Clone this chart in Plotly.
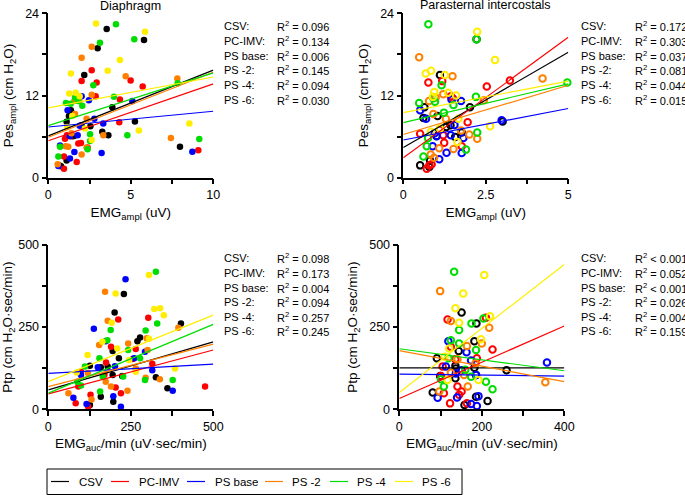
import plotly.graph_objects as go

W, H = 685, 495
FONT = "Liberation Sans, Arial, sans-serif"

series = ["CSV", "PC-IMV", "PS base", "PS -2", "PS -4", "PS -6"]
colors = ["#000000", "#FF0000", "#0000FF", "#FF8000", "#00DD00", "#FFEE00"]

# ---------------- Panel 1: Diaphragm, Pes_ampl vs EMG_ampl ----------------
p1_csv_x = [3.54, 5.80, 2.99, 2.18, 3.88, 1.37, 1.25, 1.11, 2.02, 2.55, 3.27, 3.64, 5.25, 1.45, 1.55, 7.98, 1.11, 0.65, 0.77]
p1_csv_y = [21.7, 20.1, 18.9, 15.0, 10.3, 9.85, 9.0, 8.15, 7.66, 7.5, 6.7, 6.2, 8.2, 6.05, 6.1, 4.5, 2.5, 1.8, 1.66]
p1_pc_x = [2.63, 2.02, 2.93, 4.99, 2.87, 5.72, 4.34, 4.30, 1.13, 1.31, 1.01, 1.82, 1.98, 9.09, 0.95, 0.95, 1.72, 2.38]
p1_pc_y = [15.7, 14.1, 13.9, 14.2, 11.9, 13.3, 11.4, 8.1, 6.2, 6.05, 5.7, 5.0, 5.07, 4.0, 3.1, 1.3, 2.3, 4.4]
p1_base_x = [2.02, 5.09, 2.46, 1.17, 2.79, 3.33, 1.78, 0.71, 1.58, 3.23, 8.73, 1.31, 0.61, 1.30, 1.90]
p1_base_y = [11.9, 11.2, 11.3, 9.85, 8.6, 7.9, 6.2, 4.7, 3.75, 3.6, 3.8, 2.8, 1.7, 6.1, 7.6]
p1_ps2_x = [2.63, 2.02, 4.69, 7.82, 2.63, 1.58, 1.88, 2.32, 1.62, 3.33, 7.43, 1.05, 1.21, 2.02, 2.32, 0.57, 1.40]
p1_ps2_y = [19.1, 17.5, 14.8, 14.5, 12.1, 11.2, 11.2, 8.6, 9.3, 6.2, 5.8, 4.6, 4.5, 3.4, 4.4, 1.95, 6.5]
p1_ps4_x = [4.10, 5.21, 3.13, 2.73, 1.62, 1.07, 3.98, 2.06, 7.84, 4.79, 2.53, 2.53, 9.15, 0.71, 0.61, 2.38, 1.80, 1.35]
p1_ps4_y = [22.4, 20.2, 19.7, 13.5, 11.7, 10.9, 11.8, 10.5, 13.8, 6.2, 6.34, 5.37, 5.66, 4.5, 3.1, 4.15, 11.2, 10.8]
p1_ps6_x = [2.89, 5.86, 4.34, 3.60, 1.37, 1.27, 1.66, 1.15, 2.22, 2.63, 5.49, 8.55, 1.90, 1.45]
p1_ps6_y = [22.5, 21.3, 17.2, 15.6, 15.2, 12.3, 12.4, 7.4, 7.2, 5.5, 6.9, 7.9, 11.9, 9.0]
p1_fit_start = [6.1, 5.4, 7.4, 5.9, 7.6, 10.2]
p1_fit_end = [15.7, 13.7, 9.7, 15.4, 15.3, 14.7]
p1_r2 = ["R<sup>2</sup> = 0.096", "R<sup>2</sup> = 0.134", "R<sup>2</sup> = 0.006",
         "R<sup>2</sup> = 0.145", "R<sup>2</sup> = 0.094", "R<sup>2</sup> = 0.030"]

# ---------------- Panel 2: Parasternal, Pes_ampl vs EMG_ampl ----------------
p2_csv_x = [2.22, 1.11, 0.64, 2.02, 0.61, 1.04, 1.43, 1.01, 1.57, 1.77, 3.01, 0.51, 0.81, 0.79, 1.30]
p2_csv_y = [20.2, 15.0, 10.3, 10.3, 8.7, 9.0, 7.66, 6.1, 5.95, 6.6, 8.2, 1.8, 2.5, 1.55, 7.4]
p2_pc_x = [0.76, 1.18, 1.44, 1.50, 3.23, 2.53, 1.95, 0.51, 1.21, 1.24, 1.77, 0.79, 0.86, 0.71, 1.10]
p2_pc_y = [13.9, 14.1, 11.9, 11.6, 14.2, 13.3, 8.1, 6.4, 6.2, 5.1, 4.6, 1.8, 1.95, 1.3, 7.0]
p2_base_x = [0.51, 1.46, 1.75, 0.69, 2.98, 1.01, 1.44, 1.82, 0.89, 1.31, 1.77, 1.09, 1.55, 0.95]
p2_base_y = [9.85, 11.4, 11.2, 8.6, 8.4, 6.05, 6.2, 5.8, 4.6, 3.65, 3.6, 2.7, 7.7, 6.5]
p2_ps2_x = [0.48, 1.21, 1.49, 0.78, 0.98, 4.22, 2.44, 0.91, 1.29, 2.00, 2.24, 1.52, 1.09, 0.83, 0.93, 1.75]
p2_ps2_y = [17.6, 12.2, 14.8, 11.2, 11.7, 14.5, 11.3, 9.3, 8.6, 6.3, 5.7, 4.2, 4.3, 3.4, 2.9, 6.9]
p2_ps4_x = [0.76, 2.22, 0.48, 0.91, 0.96, 2.20, 1.52, 1.23, 4.97, 2.24, 1.90, 0.61, 0.71, 1.16, 0.75]
p2_ps4_y = [22.4, 20.2, 10.9, 11.6, 11.1, 11.8, 10.6, 9.5, 13.9, 6.6, 4.1, 3.1, 4.6, 13.5, 5.8]
p2_ps6_x = [2.24, 2.78, 0.84, 0.68, 0.94, 1.36, 1.67, 2.63, 0.84, 1.11, 1.64, 1.26, 1.60, 0.90]
p2_ps6_y = [21.3, 17.2, 15.6, 15.2, 12.5, 12.4, 8.6, 7.5, 6.7, 7.2, 5.2, 15.0, 12.0, 11.8]
p2_fit_start = [4.4, 2.9, 5.5, 6.3, 8.05, 9.5]
p2_fit_end = [18.3, 20.5, 10.1, 13.5, 13.7, 14.1]
p2_r2 = ["R<sup>2</sup> = 0.172", "R<sup>2</sup> = 0.303", "R<sup>2</sup> = 0.037",
         "R<sup>2</sup> = 0.081", "R<sup>2</sup> = 0.044", "R<sup>2</sup> = 0.015"]

# ---------------- Panel 3: Diaphragm, Ptp vs EMG_auc/min ----------------
p3_csv_x = [229, 201, 402, 278, 270, 195, 214, 159, 126, 195, 224, 326, 361, 159, 197, 126, 180]
p3_csv_y = [350, 294, 261, 218, 207, 177, 155, 128, 132, 104, 101, 97, 64, 38, 23, 13, 130]
p3_pc_x = [212, 303, 190, 265, 175, 256, 315, 99, 91, 128, 83, 220, 204, 121, 475, 170]
p3_pc_y = [273, 278, 190, 183, 142, 153, 138, 114, 69, 44, 18, 49, 66, 8, 69, 105]
p3_base_x = [234, 138, 174, 293, 202, 150, 315, 377, 76, 116, 197, 220, 99, 260]
p3_base_y = [395, 245, 207, 175, 131, 128, 119, 56, 35, 16, 40, 8, 104, 155]
p3_ps2_x = [172, 180, 154, 242, 298, 394, 301, 265, 295, 338, 174, 190, 240, 61, 131, 120]
p3_ps2_y = [357, 269, 195, 200, 216, 248, 180, 124, 96, 91, 84, 69, 56, 49, 30, 110]
p3_ps4_x = [326, 189, 295, 179, 330, 242, 278, 155, 111, 165, 293, 377, 88, 99, 157, 227]
p3_ps4_y = [418, 241, 239, 210, 261, 180, 155, 155, 130, 99, 89, 89, 84, 72, 54, 100]
p3_ps6_x = [305, 204, 321, 339, 350, 305, 192, 164, 119, 209, 384, 265, 86, 245]
p3_ps6_y = [408, 352, 305, 307, 286, 214, 263, 205, 165, 185, 124, 114, 112, 150]
p3_fit_start = [59, 47, 109, 69, 49, 84]
p3_fit_end = [205, 180, 137, 198, 258, 286]
p3_r2 = ["R<sup>2</sup> = 0.098", "R<sup>2</sup> = 0.173", "R<sup>2</sup> = 0.004",
         "R<sup>2</sup> = 0.094", "R<sup>2</sup> = 0.257", "R<sup>2</sup> = 0.245"]

# ---------------- Panel 4: Parasternal, Ptp vs EMG_auc/min ----------------
p4_csv_x = [151, 187, 182, 144, 91, 136, 137, 182, 260, 99, 136, 186, 81, 214, 186, 158]
p4_csv_y = [294, 261, 207, 177, 155, 132, 124, 126, 119, 101, 94, 104, 51, 25, 38, 13]
p4_pc_x = [117, 210, 226, 125, 188, 136, 105, 101, 141, 151, 108, 145, 123, 164]
p4_pc_y = [273, 278, 182, 190, 155, 152, 130, 101, 69, 54, 49, 44, 18, 18]
p4_base_x = [119, 163, 174, 113, 151, 137, 358, 186, 93, 140, 192, 188, 174]
p4_base_y = [207, 173, 148, 130, 119, 109, 142, 104, 35, 36, 40, 10, 16]
p4_ps2_x = [99, 125, 218, 200, 164, 141, 354, 166, 97, 157, 125, 185]
p4_ps2_y = [359, 268, 248, 200, 192, 152, 82, 69, 54, 104, 111, 140]
p4_ps4_x = [133, 145, 175, 204, 125, 145, 186, 119, 210, 226, 108, 101, 174, 160]
p4_ps4_y = [418, 241, 261, 276, 210, 200, 180, 155, 84, 61, 69, 91, 99, 120]
p4_ps6_x = [206, 155, 136, 145, 220, 198, 121, 192, 117, 110]
p4_ps6_y = [408, 352, 307, 263, 283, 213, 185, 89, 89, 160]
p4_fit_start = [126, 33, 107, 178, 184, 51]
p4_fit_end = [126, 253, 101, 84, 117, 440]
p4_r2 = ["R<sup>2</sup> < 0.001", "R<sup>2</sup> = 0.052", "R<sup>2</sup> < 0.001",
         "R<sup>2</sup> = 0.026", "R<sup>2</sup> = 0.004", "R<sup>2</sup> = 0.159"]

labels = ["CSV:", "PC-IMV:", "PS base:", "PS -2:", "PS -4:", "PS -6:"]

panels = [
    dict(xs=[p1_csv_x, p1_pc_x, p1_base_x, p1_ps2_x, p1_ps4_x, p1_ps6_x],
         ys=[p1_csv_y, p1_pc_y, p1_base_y, p1_ps2_y, p1_ps4_y, p1_ps6_y],
         fs=p1_fit_start, fe=p1_fit_end, r2=p1_r2, xmax=10, ymax=24,
         open=False, xd=(48.3, 213.3), yd=(13.3, 177.7),
         xt=[0, 5, 10], xm=[2.5, 7.5], yt=[0, 12, 24], ym=[6, 18],
         xtitle="EMG<sub>ampl</sub> (uV)", ytitle="Pes<sub>ampl</sub> (cm H<sub>2</sub>O)",
         lab_x=222, r2_x=275, row0=26, dy=14.8),
    dict(xs=[p2_csv_x, p2_pc_x, p2_base_x, p2_ps2_x, p2_ps4_x, p2_ps6_x],
         ys=[p2_csv_y, p2_pc_y, p2_base_y, p2_ps2_y, p2_ps4_y, p2_ps6_y],
         fs=p2_fit_start, fe=p2_fit_end, r2=p2_r2, xmax=5, ymax=24,
         open=True, xd=(403.3, 568.3), yd=(13.3, 177.7),
         xt=[0, 2.5, 5], xm=[1.25, 3.75], yt=[0, 12, 24], ym=[6, 18],
         xtitle="EMG<sub>ampl</sub> (uV)", ytitle="Pes<sub>ampl</sub> (cm H<sub>2</sub>O)",
         lab_x=578.7, r2_x=633, row0=26, dy=14.8),
    dict(xs=[p3_csv_x, p3_pc_x, p3_base_x, p3_ps2_x, p3_ps4_x, p3_ps6_x],
         ys=[p3_csv_y, p3_pc_y, p3_base_y, p3_ps2_y, p3_ps4_y, p3_ps6_y],
         fs=p3_fit_start, fe=p3_fit_end, r2=p3_r2, xmax=500, ymax=500,
         open=False, xd=(48.3, 213.3), yd=(244.7, 409.3),
         xt=[0, 250, 500], xm=[125, 375], yt=[0, 250, 500], ym=[125, 375],
         xtitle="EMG<sub>auc</sub>/min (uV·sec/min)", ytitle="Ptp (cm H<sub>2</sub>O·sec/min)",
         lab_x=222, r2_x=275, row0=258.3, dy=14.6),
    dict(xs=[p4_csv_x, p4_pc_x, p4_base_x, p4_ps2_x, p4_ps4_x, p4_ps6_x],
         ys=[p4_csv_y, p4_pc_y, p4_base_y, p4_ps2_y, p4_ps4_y, p4_ps6_y],
         fs=p4_fit_start, fe=p4_fit_end, r2=p4_r2, xmax=400, ymax=500,
         open=True, xd=(399.3, 564.3), yd=(244.7, 409.3),
         xt=[0, 200, 400], xm=[100, 300], yt=[0, 250, 500], ym=[125, 375],
         xtitle="EMG<sub>auc</sub>/min (uV·sec/min)", ytitle="Ptp (cm H<sub>2</sub>O·sec/min)",
         lab_x=578.7, r2_x=633, row0=258.3, dy=14.6),
]

# legend geometry (pixels)
leg_line_x0 = [51, 111, 187, 265, 330, 395]
leg_text_x = [77, 137, 213, 290, 355, 420]

fig = go.Figure()
annotations = []
shapes = []
layout_axes = {}

for i, p in enumerate(panels):
    n = i + 1
    xa = "x" if n == 1 else f"x{n}"
    ya = "y" if n == 1 else f"y{n}"
    for k in range(6):
        if p["open"]:
            marker = dict(symbol="circle-open", size=6.5, color=colors[k], line=dict(width=2, color=colors[k]))
        else:
            marker = dict(symbol="circle", size=6.5, color=colors[k], line=dict(width=0))
        fig.add_trace(go.Scatter(x=p["xs"][k], y=p["ys"][k], mode="markers", marker=marker,
                                 xaxis=xa, yaxis=ya, showlegend=False, cliponaxis=False,
                                 hoverinfo="skip"))
    for k in range(6):
        fig.add_trace(go.Scatter(x=[0, p["xmax"]], y=[p["fs"][k], p["fe"][k]], mode="lines",
                                 line=dict(color=colors[k], width=1.2),
                                 xaxis=xa, yaxis=ya, name=series[k],
                                 showlegend=False, hoverinfo="skip"))
    axis_common = dict(showline=True, linecolor="black", linewidth=1.5, ticks="outside",
                       ticklen=5, tickwidth=1.5, tickcolor="black", showgrid=False,
                       zeroline=False, automargin=False,
                       tickfont=dict(family=FONT, size=12.5, color="black"),
                       title_font=dict(family=FONT, size=13.5, color="black"))
    layout_axes["xaxis" if n == 1 else f"xaxis{n}"] = dict(
        axis_common, domain=[p["xd"][0] / W, p["xd"][1] / W], anchor=ya,
        range=[0, p["xmax"]], tickvals=p["xt"],
        minor=dict(tickvals=p["xm"], ticks="outside", ticklen=5, tickwidth=1.5, tickcolor="black"),
        title=dict(text=p["xtitle"], standoff=6))
    layout_axes["yaxis" if n == 1 else f"yaxis{n}"] = dict(
        axis_common, domain=[1 - p["yd"][1] / H, 1 - p["yd"][0] / H], anchor=xa,
        range=[0, p["ymax"]], tickvals=p["yt"],
        minor=dict(tickvals=p["ym"], ticks="outside", ticklen=5, tickwidth=1.5, tickcolor="black"),
        title=dict(text=p["ytitle"], standoff=8))
    for k in range(6):
        yy = 1 - (p["row0"] + k * p["dy"]) / H
        annotations.append(dict(x=p["lab_x"] / W, y=yy, xref="paper", yref="paper",
                                text=labels[k], showarrow=False, xanchor="left", yanchor="middle",
                                font=dict(family=FONT, size=11, color="black")))
        annotations.append(dict(x=p["r2_x"] / W, y=yy, xref="paper", yref="paper",
                                text=p["r2"][k], showarrow=False, xanchor="left", yanchor="middle",
                                font=dict(family=FONT, size=11, color="black")))

annotations.append(dict(x=130.8 / W, y=1 - 6 / H, xref="paper", yref="paper", text="Diaphragm",
                        showarrow=False, xanchor="center", yanchor="middle",
                        font=dict(family=FONT, size=12.5, color="black")))
annotations.append(dict(x=486 / W, y=1 - 5 / H, xref="paper", yref="paper",
                        text="Parasternal intercostals", showarrow=False, xanchor="center",
                        yanchor="middle", font=dict(family=FONT, size=12.5, color="black")))

# legend box (drawn by hand to match the compact reference legend)
shapes.append(dict(type="rect", xref="paper", yref="paper", x0=47 / W, x1=462 / W,
                   y0=1 - 494.5 / H, y1=1 - 469 / H, line=dict(color="black", width=1),
                   fillcolor="white", layer="below"))
for k in range(6):
    yl = 1 - 481.5 / H
    shapes.append(dict(type="line", xref="paper", yref="paper",
                       x0=leg_line_x0[k] / W, x1=(leg_line_x0[k] + 18) / W, y0=yl, y1=yl,
                       line=dict(color=colors[k], width=1.2)))
    annotations.append(dict(x=leg_text_x[k] / W, y=yl, xref="paper", yref="paper",
                            text=series[k], showarrow=False, xanchor="left", yanchor="middle",
                            font=dict(family=FONT, size=11.5, color="black")))

fig.update_layout(
    width=W, height=H, margin=dict(l=0, r=0, t=0, b=0, autoexpand=False),
    paper_bgcolor="white", plot_bgcolor="white",
    font=dict(family=FONT, color="black"),
    showlegend=False,
    annotations=annotations, shapes=shapes,
    **layout_axes,
)

fig.write_html("out.html", config={"displayModeBar": False},
               post_script="document.body.style.margin='0';document.body.style.overflow='hidden';")
